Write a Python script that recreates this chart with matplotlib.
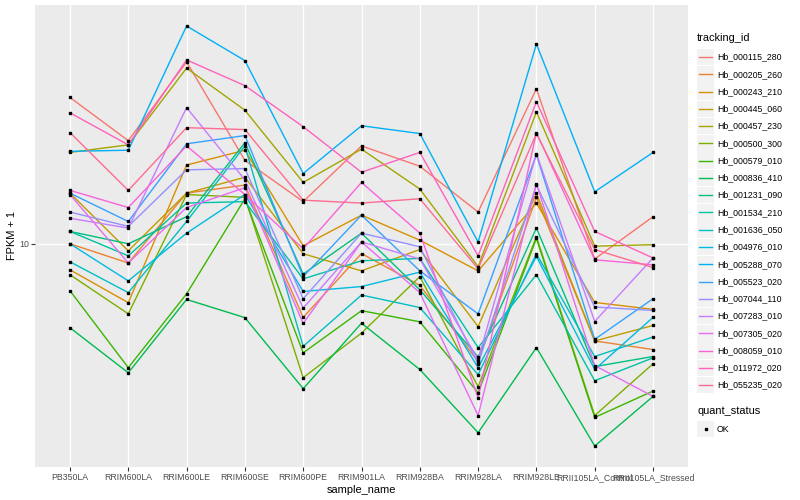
#!/usr/bin/python3

"""
Expression plot (FPKM + 1, log scale) for 20 tracking ids over 11 samples,
drawn in the look of a ggplot2 line chart.
"""

import sys

import matplotlib
matplotlib.use("Agg")
import matplotlib.pyplot as plt
from matplotlib.lines import Line2D
from matplotlib.patches import Rectangle
from matplotlib.ticker import NullLocator
import numpy


samples = ["PB350LA", "RRIM600LA", "RRIM600LE", "RRIM600SE", "RRIM600PE",
           "RRIM901LA", "RRIM928BA", "RRIM928LA", "RRIM928LE",
           "RRII105LA_Control", "RRII105LA_Stressed"]

tracking_ids = ["Hb_000115_280", "Hb_000205_260", "Hb_000243_210",
                "Hb_000445_060", "Hb_000457_230", "Hb_000500_300",
                "Hb_000579_010", "Hb_000836_410", "Hb_001231_090",
                "Hb_001534_210", "Hb_001636_050", "Hb_004976_010",
                "Hb_005288_070", "Hb_005523_020", "Hb_007044_110",
                "Hb_007283_010", "Hb_007305_020", "Hb_008059_010",
                "Hb_011972_020", "Hb_055235_020"]

# FPKM + 1, one list per tracking id, in sample order.
hb_000115_280 = [22.3, 17.6, 27.1, 15.8, 12.6, 17.1, 15.3, 11.9, 23.4, 9.2, 11.6]
hb_000205_260 = [10.0, 9.0, 13.2, 13.8, 6.68, 9.48, 7.96, 5.24, 12.9, 5.87, 5.60]
hb_000243_210 = [8.67, 7.24, 15.4, 16.7, 9.89, 11.7, 10.2, 8.62, 12.5, 7.25, 6.98]
hb_000445_060 = [13.2, 9.62, 13.2, 14.4, 9.47, 8.62, 9.69, 6.35, 13.2, 5.87, 6.39]
hb_000457_230 = [16.5, 17.2, 26.2, 20.8, 14.0, 16.8, 13.5, 8.82, 20.6, 9.87, 9.95]
hb_000500_300 = [8.44, 6.81, 13.1, 12.9, 4.80, 6.13, 8.35, 4.57, 10.4, 3.90, 5.18]
hb_000579_010 = [7.73, 5.07, 7.60, 12.8, 5.50, 6.93, 6.52, 4.42, 10.3, 3.86, 4.46]
hb_000836_410 = [6.31, 4.93, 7.37, 6.67, 4.52, 6.47, 5.02, 3.55, 5.66, 3.30, 4.33]
hb_001231_090 = [10.7, 10.0, 11.6, 17.4, 8.47, 10.6, 7.77, 5.38, 10.9, 5.10, 5.39]
hb_001534_210 = [10.7, 9.36, 12.5, 12.6, 8.25, 9.11, 9.23, 5.66, 8.44, 4.72, 5.35]
hb_001636_050 = [9.06, 7.65, 11.3, 17.1, 5.70, 7.55, 7.05, 4.88, 9.47, 5.39, 6.00]
hb_004976_010 = [10.0, 8.16, 10.6, 13.1, 7.70, 7.91, 8.56, 5.07, 9.33, 5.02, 6.68]
hb_005288_070 = [16.6, 16.7, 33.0, 27.3, 14.7, 19.1, 18.3, 10.1, 29.9, 13.3, 16.5]
hb_005523_020 = [13.2, 11.3, 17.3, 18.1, 8.35, 11.7, 8.62, 6.81, 16.3, 5.92, 7.40]
hb_007044_110 = [11.9, 11.0, 15.0, 15.1, 7.40, 10.6, 9.84, 5.18, 13.8, 7.07, 6.94]
hb_007283_010 = [11.5, 10.9, 21.1, 14.2, 7.03, 10.1, 9.20, 5.30, 16.4, 6.53, 9.25]
hb_007305_020 = [13.1, 9.00, 12.2, 13.6, 6.46, 10.1, 7.65, 3.90, 13.9, 5.13, 4.33]
hb_008059_010 = [13.4, 12.2, 17.1, 13.1, 9.73, 14.0, 10.6, 4.30, 18.4, 9.16, 8.91]
hb_011972_020 = [20.5, 17.2, 27.4, 23.8, 19.0, 14.8, 16.5, 9.36, 21.8, 10.7, 9.25]
hb_055235_020 = [18.4, 13.4, 18.9, 18.7, 12.7, 12.5, 12.8, 8.72, 18.3, 9.69, 8.78]

series = [hb_000115_280, hb_000205_260, hb_000243_210, hb_000445_060,
          hb_000457_230, hb_000500_300, hb_000579_010, hb_000836_410,
          hb_001231_090, hb_001534_210, hb_001636_050, hb_004976_010,
          hb_005288_070, hb_005523_020, hb_007044_110, hb_007283_010,
          hb_007305_020, hb_008059_010, hb_011972_020, hb_055235_020]

# ggplot2 default hue palette for 20 levels.
COLORS = ["#F8766D", "#EA8331", "#D89000", "#C09B00", "#A3A500", "#7CAE00",
          "#39B600", "#00BB4E", "#00BF7D", "#00C1A3", "#00BFC4", "#00BAE0",
          "#00B0F6", "#35A2FF", "#9590FF", "#C77CFF", "#E76BF3", "#FA62DB",
          "#FF62BC", "#FF6C91"]

W, H = 800, 500
FONT = "Liberation Sans"
MARKER_SIZE = 2.1


def fx(px):
    return px / W


def fy(py):
    return 1 - py / H


def draw_panel(fig):
    ax = fig.add_axes([fx(35), fy(467), (688 - 35) / W, (467 - 5) / H])
    ax.set_facecolor("#EBEBEB")
    for s in ax.spines.values():
        s.set_visible(False)

    x = numpy.arange(1, len(samples) + 1)
    for values, color in zip(series, COLORS):
        ax.plot(x, values, color=color, lw=1.0, zorder=2)
    for values in series:
        ax.plot(x, values, ls="none", marker="s", ms=MARKER_SIZE,
                color="black", zorder=3)

    ax.set_yscale("log")
    allv = numpy.log10(numpy.concatenate([numpy.array(v) for v in series]))
    lo, hi = allv.min(), allv.max()
    pad = 0.05 * (hi - lo)
    ax.set_ylim(10 ** (lo - pad), 10 ** (hi + pad))
    ax.set_xlim(0.4, len(samples) + 0.6)

    ax.set_yticks([10])
    ax.set_yticklabels(["10"])
    ax.yaxis.set_minor_locator(NullLocator())
    ax.set_xticks(x)
    ax.set_xticklabels(samples)
    ax.tick_params(length=3, width=0.8, color="#333333", labelsize=6.3,
                   labelcolor="#4D4D4D", pad=1.5)
    for lab in ax.get_xticklabels() + ax.get_yticklabels():
        lab.set_family(FONT)

    ax.grid(True, color="white", lw=1.0)
    ax.set_axisbelow(True)

    ax.set_xlabel("sample_name", family=FONT, fontsize=7.9, labelpad=2)
    ax.set_ylabel("FPKM + 1", family=FONT, fontsize=7.9, labelpad=1)
    return ax


def draw_legend(fig):
    fig.text(fx(697), fy(38), "tracking_id", family=FONT, fontsize=7.9,
             va="center", ha="left")
    step = 17.27
    for i, (name, color) in enumerate(zip(tracking_ids, COLORS)):
        yc = 57 + i * step
        fig.add_artist(Rectangle((fx(697), fy(yc + 8.3)), 17 / W, 16.6 / H,
                                 transform=fig.transFigure,
                                 facecolor="#F2F2F2", edgecolor="none"))
        fig.add_artist(Line2D([fx(699), fx(712)], [fy(yc), fy(yc)],
                              transform=fig.transFigure, color=color, lw=1.0))
        fig.text(fx(717), fy(yc), name, family=FONT, fontsize=6.3,
                 va="center", ha="left")

    fig.text(fx(697), fy(411), "quant_status", family=FONT, fontsize=7.9,
             va="center", ha="left")
    yc = 429
    fig.add_artist(Rectangle((fx(697), fy(yc + 8.3)), 17 / W, 16.6 / H,
                             transform=fig.transFigure,
                             facecolor="#F2F2F2", edgecolor="none"))
    fig.add_artist(Line2D([fx(705.5)], [fy(yc)], transform=fig.transFigure,
                          ls="none", marker="s", ms=MARKER_SIZE,
                          color="black"))
    fig.text(fx(717), fy(yc), "OK", family=FONT, fontsize=6.3,
             va="center", ha="left")


def main():
    fig = plt.figure(figsize=(W / 100, H / 100), dpi=100)
    draw_panel(fig)
    draw_legend(fig)
    fig.savefig("out.png", dpi=100)


if __name__ == "__main__":
    sys.exit(main())
